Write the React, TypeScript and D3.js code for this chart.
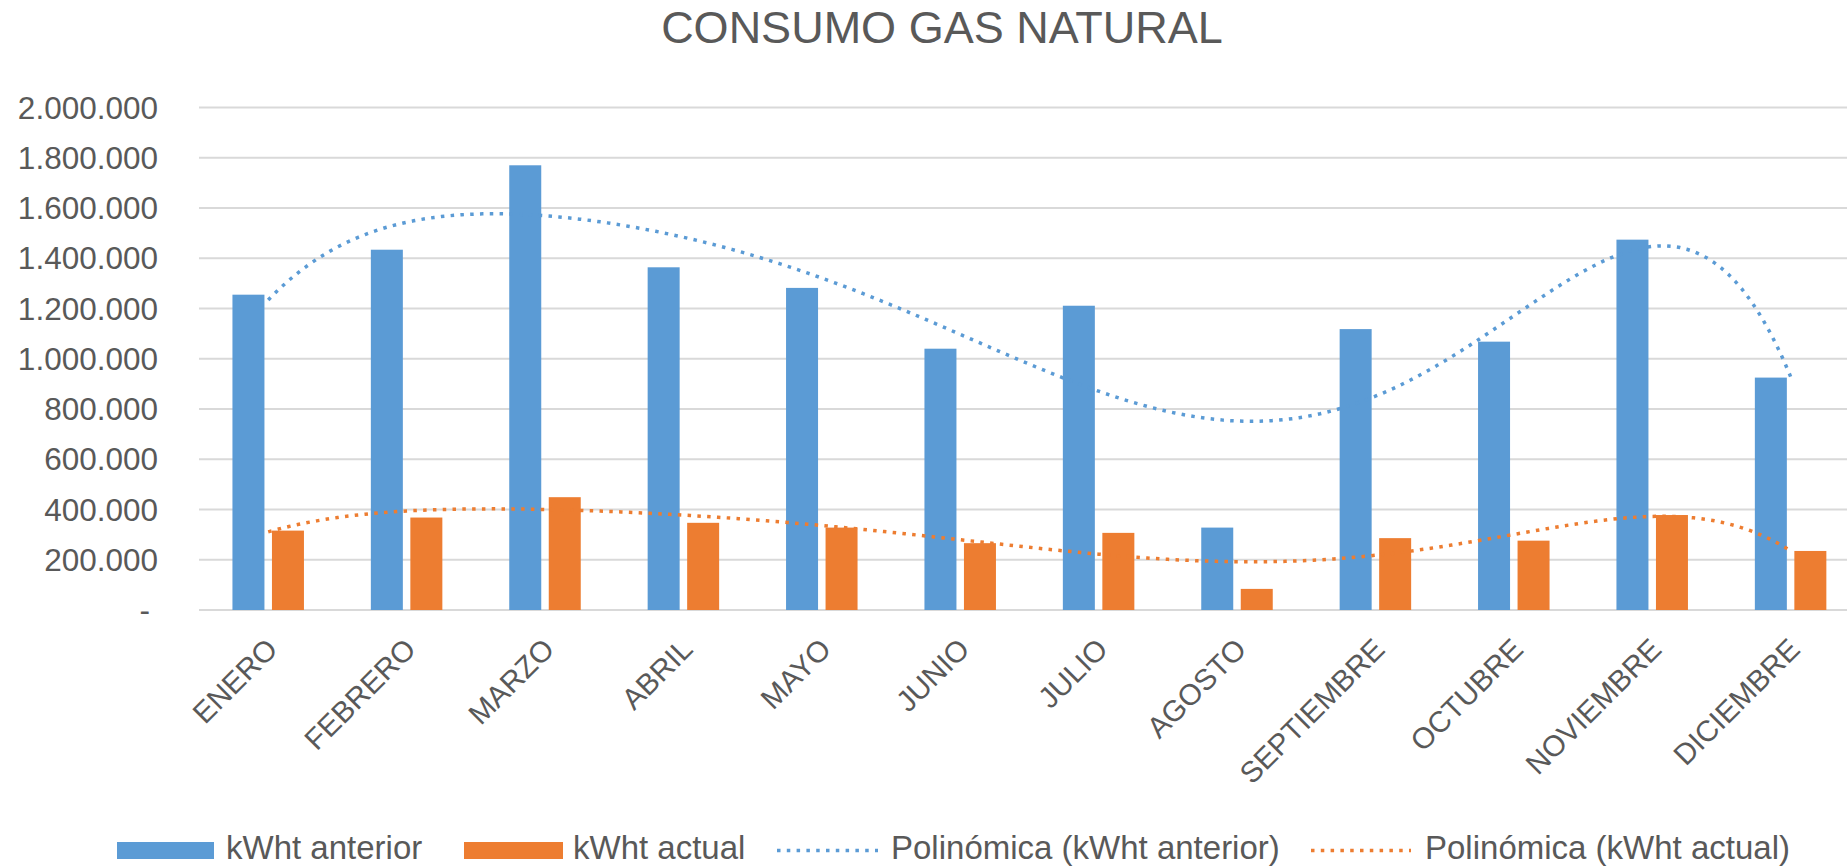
import React from "react";
import * as d3 from "d3";

const months = ["ENERO","FEBRERO","MARZO","ABRIL","MAYO","JUNIO","JULIO","AGOSTO","SEPTIEMBRE","OCTUBRE","NOVIEMBRE","DICIEMBRE"];
const kwhAnterior = [1255000,1434000,1770000,1364000,1282000,1040000,1211000,328000,1118000,1068000,1474000,925000];
const kwhActual = [316000,368000,449000,347000,328000,266000,307000,84000,286000,276000,378000,235000];
const yTicks = [0,200000,400000,600000,800000,1000000,1200000,1400000,1600000,1800000,2000000];
const seriesNames = ["kWht anterior","kWht actual"];
const trendNames = ["Polinómica (kWht anterior)","Polinómica (kWht actual)"];
const title = "CONSUMO GAS NATURAL";
const POLY_ORDER = 6;

const BLUE = "#5B9BD5";
const ORANGE = "#ED7D31";
const TEXT = "#595959";
const GRID = "#D9D9D9";
const FONT = "'Liberation Sans', Arial, sans-serif";

function polyfit(ys: number[], order: number) {
  const n = ys.length;
  const ts = ys.map((_, i) => (i - (n - 1) / 2) / ((n - 1) / 2));
  const m = order + 1;
  const A: number[][] = Array.from({ length: m }, () => new Array(m + 1).fill(0));
  for (let r = 0; r < m; r++) {
    for (let c = 0; c < m; c++) {
      let s = 0;
      for (let k = 0; k < n; k++) s += Math.pow(ts[k], r + c);
      A[r][c] = s;
    }
    let s = 0;
    for (let k = 0; k < n; k++) s += ys[k] * Math.pow(ts[k], r);
    A[r][m] = s;
  }
  for (let col = 0; col < m; col++) {
    let piv = col;
    for (let r = col + 1; r < m; r++) if (Math.abs(A[r][col]) > Math.abs(A[piv][col])) piv = r;
    [A[col], A[piv]] = [A[piv], A[col]];
    for (let r = 0; r < m; r++) {
      if (r === col) continue;
      const f = A[r][col] / A[col][col];
      for (let c = col; c <= m; c++) A[r][c] -= f * A[col][c];
    }
  }
  const coef = A.map((row, i) => row[m] / row[i]);
  return (i: number) => {
    const t = (i - (n - 1) / 2) / ((n - 1) / 2);
    let v = 0;
    for (let p = 0; p < m; p++) v += coef[p] * Math.pow(t, p);
    return v;
  };
}

export default function App() {
  const W = 1847, H = 867;
  const x0 = d3.scaleBand<string>().domain(months).range([199, 199 + 12 * 138.4]).padding(0);
  const x1 = d3.scaleBand<string>().domain(seriesNames).range([-35.75, 35.75]).paddingInner(0.19).paddingOuter(0);
  const y = d3.scaleLinear().domain([0, 2000000]).range([610, 107.5]);
  const center = (m: string) => (x0(m) as number) + x0.bandwidth() / 2;
  const xi = d3.scaleLinear().domain([0, months.length - 1]).range([center(months[0]), center(months[months.length - 1])]);

  const fitA = polyfit(kwhAnterior, POLY_ORDER);
  const fitB = polyfit(kwhActual, POLY_ORDER);
  const samples = d3.range(0, months.length - 1 + 1e-9, 0.05);
  const line = (f: (i: number) => number) =>
    d3.line<number>().x((i) => xi(i)).y((i) => y(f(i))).curve(d3.curveLinear)(samples) as string;

  const fmt = (v: number) => (v === 0 ? "-" : d3.format(",")(v).replace(/,/g, "."));
  const [x0Start, x0End] = x0.range();
  const dash = "3.5 6.3";

  return (
    <svg width={W} height={H} style={{ position: "absolute", left: 0, top: 0, background: "#fff" }}>
      <rect x={0} y={0} width={W} height={H} fill="#fff" />
      <text x={942} y={43} textAnchor="middle" fontFamily={FONT} fontSize={45} fill={TEXT}>{title}</text>
      {yTicks.map((t) => (
        <g key={t}>
          <line x1={x0Start} x2={x0End} y1={y(t)} y2={y(t)} stroke={GRID} strokeWidth={2} />
          <text x={t === 0 ? 150 : 158} y={y(t) + 11} textAnchor="end" fontFamily={FONT} fontSize={31.5} fill={TEXT}>{fmt(t)}</text>
        </g>
      ))}
      {months.map((m, i) => (
        <g key={m}>
          <rect x={center(m) + (x1(seriesNames[0]) as number)} y={y(kwhAnterior[i])} width={x1.bandwidth()} height={y(0) - y(kwhAnterior[i])} fill={BLUE} />
          <rect x={center(m) + (x1(seriesNames[1]) as number)} y={y(kwhActual[i])} width={x1.bandwidth()} height={y(0) - y(kwhActual[i])} fill={ORANGE} />
          <text transform={`translate(${center(m) + 11},${651}) rotate(-45)`} textAnchor="end" fontFamily={FONT} fontSize={29.5} fill={TEXT}>{m}</text>
        </g>
      ))}
      <path d={line(fitA)} fill="none" stroke={BLUE} strokeWidth={3.5} strokeDasharray={dash} />
      <path d={line(fitB)} fill="none" stroke={ORANGE} strokeWidth={3.5} strokeDasharray={dash} />
      <g fontFamily={FONT} fontSize={33} fill={TEXT}>
        <rect x={117} y={842} width={97} height={17} fill={BLUE} />
        <text x={226} y={859}>{seriesNames[0]}</text>
        <rect x={464} y={842} width={99} height={17} fill={ORANGE} />
        <text x={573} y={859}>{seriesNames[1]}</text>
        <line x1={777} x2={878} y1={850.5} y2={850.5} stroke={BLUE} strokeWidth={3.5} strokeDasharray={dash} />
        <text x={891} y={859}>{trendNames[0]}</text>
        <line x1={1311} x2={1411} y1={850.5} y2={850.5} stroke={ORANGE} strokeWidth={3.5} strokeDasharray={dash} />
        <text x={1425} y={859}>{trendNames[1]}</text>
      </g>
    </svg>
  );
}
